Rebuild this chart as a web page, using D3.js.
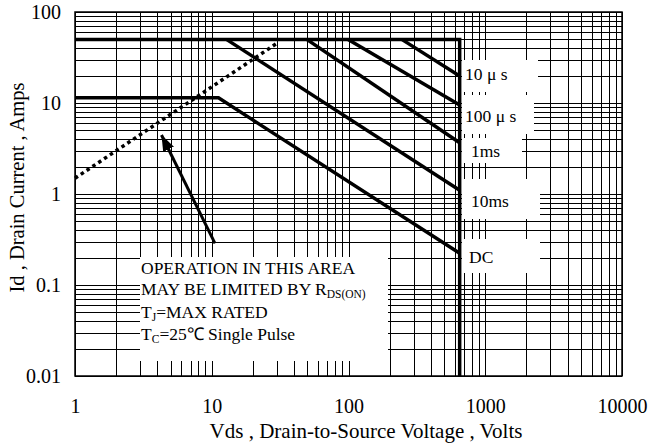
<!DOCTYPE html>
<html><head><meta charset="utf-8">
<script src="https://cdn.jsdelivr.net/npm/d3@7"></script>
<style>body{margin:0;background:#fff} svg{display:block}</style>
</head><body>
<svg id="chart" width="652" height="446"></svg>
<script>
// ---- data ----
const xTickValues = [1, 10, 100, 1000, 10000];
const xTickLabels = ["1", "10", "100", "1000", "10000"];
const yTickValues = [0.01, 0.1, 1, 10, 100];
const yTickLabels = ["0.01", "0.1", "1", "10", "100"];
const limitLine  = [[1, 50], [650, 50], [650, 0.01]];
const dcLine     = [[1, 11.4], [11.2, 11.4], [650, 0.223]];
const us10Line   = [[245, 50], [650, 19.8]];
const us100Line  = [[99.3, 50], [650, 9.5]];
const ms1Line    = [[49.5, 50], [650, 3.66]];
const ms10Line   = [[12.8, 50], [650, 1.1]];
const rdsLine    = [[1, 1.49], [30.7, 46.4]];
const arrowLine  = [[10.56, 0.287], [4.29, 4.45]];
const curveLabels = ["10 μ s", "100 μ s", "1ms", "10ms", "DC"];
const xTitle = "Vds , Drain-to-Source Voltage , Volts";
const yTitle = "Id , Drain Current , Amps";

// ---- layout ----
const L = 75, R = 622, T = 12, B = 376;
const FONT = "'Liberation Serif','Times New Roman',serif";
const svg = d3.select("#chart");
const x = d3.scaleLog().domain([1, 10000]).range([L, R]);
const y = d3.scaleLog().domain([0.01, 100]).range([B, T]);

// grid
const gx = [], gy = [];
for (let k = 0; k < 4; k++) for (let m = 1; m <= 9; m++) gx.push(m * Math.pow(10, k));
gx.push(10000);
for (let k = -2; k < 2; k++) for (let m = 1; m <= 9; m++) gy.push(+(m * Math.pow(10, k)).toPrecision(3));
gy.push(100);
const grid = svg.append("g").attr("stroke", "#000").attr("stroke-width", 1).attr("shape-rendering", "crispEdges");
grid.selectAll("line.v").data(gx).join("line").attr("class", "v")
  .attr("x1", d => Math.round(x(d)) + 0.5).attr("x2", d => Math.round(x(d)) + 0.5).attr("y1", T).attr("y2", B);
grid.selectAll("line.h").data(gy).join("line").attr("class", "h")
  .attr("y1", d => Math.round(y(d)) + 0.5).attr("y2", d => Math.round(y(d)) + 0.5).attr("x1", L).attr("x2", R);

// white label boxes
const boxes = [[462, 60, 538, 92], [462, 95, 534, 134], [462, 138, 522, 163], [462, 179, 540, 219], [462, 239, 540, 273], [140, 257, 388, 361]];
svg.append("g").selectAll("rect").data(boxes).join("rect")
  .attr("x", d => d[0]).attr("y", d => d[1]).attr("width", d => d[2] - d[0]).attr("height", d => d[3] - d[1])
  .attr("fill", "#fff");

// border
svg.append("rect").attr("x", L).attr("y", T).attr("width", R - L).attr("height", B - T)
  .attr("fill", "none").attr("stroke", "#000").attr("stroke-width", 1.5);

// curves
const line = d3.line().x(d => x(d[0])).y(d => y(d[1]));
const curves = svg.append("g").attr("fill", "none").attr("stroke", "#000").attr("stroke-width", 3.5);
[limitLine, dcLine, us10Line, us100Line, ms1Line, ms10Line].forEach(c => curves.append("path").attr("d", line(c)));
svg.append("path").attr("d", line(rdsLine)).attr("fill", "none").attr("stroke", "#000")
  .attr("stroke-width", 3.5).attr("stroke-dasharray", "3.5,3.5");

// arrow
svg.append("defs").append("marker").attr("id", "ah").attr("viewBox", "0 0 16 12")
  .attr("refX", 16).attr("refY", 6).attr("markerWidth", 16).attr("markerHeight", 12)
  .attr("markerUnits", "userSpaceOnUse").attr("orient", "auto")
  .append("path").attr("d", "M0,0L16,6L0,12Z").attr("fill", "#000");
svg.append("path").attr("d", line(arrowLine)).attr("stroke", "#000").attr("stroke-width", 3)
  .attr("fill", "none").attr("marker-end", "url(#ah)");

// axes
const xAxis = svg.append("g").attr("transform", `translate(0,${B})`)
  .call(d3.axisBottom(x).tickValues(xTickValues).tickFormat((d, i) => xTickLabels[i]).tickSize(0));
xAxis.select(".domain").remove();
xAxis.selectAll("text").attr("y", 37).attr("dy", 0).attr("font-family", FONT).attr("font-size", 20).attr("fill", "#000");
const yAxis = svg.append("g").attr("transform", `translate(${L},0)`)
  .call(d3.axisLeft(y).tickValues(yTickValues).tickFormat((d, i) => yTickLabels[i]).tickSize(0));
yAxis.select(".domain").remove();
yAxis.selectAll("text").attr("x", -14).attr("dy", "0.34em").attr("font-family", FONT).attr("font-size", 20).attr("fill", "#000");

// titles
svg.append("text").attr("x", 366).attr("y", 438).attr("text-anchor", "middle")
  .attr("font-family", FONT).attr("font-size", 21).text(xTitle);
svg.append("text").attr("transform", "translate(24,187.5) rotate(-90)").attr("text-anchor", "middle")
  .attr("font-family", FONT).attr("font-size", 20.5).text(yTitle);

// curve labels
const labelPos = [[465, 80], [465, 122], [471, 157], [471, 207], [469, 263]];
svg.append("g").selectAll("text").data(curveLabels).join("text")
  .attr("x", (d, i) => labelPos[i][0]).attr("y", (d, i) => labelPos[i][1])
  .attr("font-family", FONT).attr("font-size", 17.5).text(d => d);

// annotation
const ann = svg.append("g").attr("font-family", FONT).attr("font-size", 17.5);
ann.append("text").attr("x", 141).attr("y", 274).text("OPERATION IN THIS AREA");
const t2 = ann.append("text").attr("x", 141).attr("y", 295);
t2.append("tspan").text("MAY BE LIMITED BY R");
t2.append("tspan").attr("font-size", 11.5).attr("dy", 3).text("DS(ON)");
const t3 = ann.append("text").attr("x", 141).attr("y", 318);
t3.append("tspan").text("T");
t3.append("tspan").attr("font-size", 11.5).attr("dy", 3).text("J");
t3.append("tspan").attr("dy", -3).text("=MAX RATED");
const t4 = ann.append("text").attr("x", 141).attr("y", 340);
t4.append("tspan").text("T");
t4.append("tspan").attr("font-size", 11.5).attr("dy", 3).text("C");
t4.append("tspan").attr("dy", -3).text("=25℃  Single Pulse");
</script>
</body></html>
